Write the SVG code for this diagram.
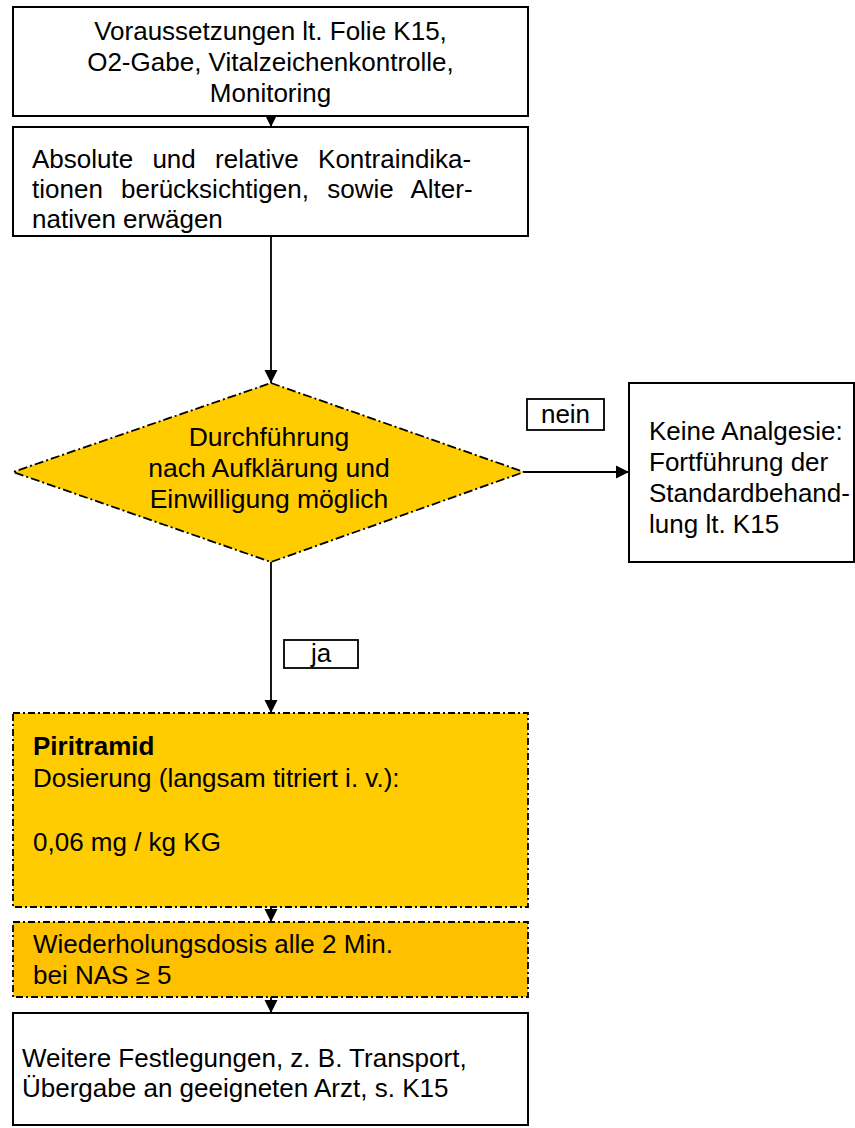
<svg xmlns="http://www.w3.org/2000/svg" width="855" height="1128" viewBox="0 0 855 1128">
  <style>
    text { font-family: "Liberation Sans", Arial, sans-serif; font-size: 26px; fill: #000; }
    .c { text-anchor: middle; }
    .b { font-weight: bold; }
    .box { fill: #fff; stroke: #000; stroke-width: 2; }
    .tag { fill: #fff; stroke: #000; stroke-width: 1.8; }
    .dd { stroke: #000; stroke-width: 1.8; stroke-dasharray: 7 3 2 3; }
    .dd2 { stroke: #000; stroke-width: 1.8; stroke-dasharray: 9 3 2 3; }
    .y1 { fill: #FFCC00; }
    .y2 { fill: #FFC000; }
    .edge { stroke: #000; stroke-width: 1.8; fill: none; }
  </style>
  <defs>
    <marker id="arrow" viewBox="0 0 10 10" refX="10" refY="5" markerWidth="7.5" markerHeight="7.5" markerUnits="strokeWidth" orient="auto">
      <path d="M0,0 L10,5 L0,10 Z" fill="#000"/>
    </marker>
  </defs>

  <!-- connectors -->
  <g id="connectors">
    <line class="edge" x1="271" y1="116" x2="271" y2="127" marker-end="url(#arrow)"/>
    <line class="edge" x1="271" y1="236" x2="271" y2="383" marker-end="url(#arrow)"/>
    <line class="edge" x1="524" y1="472" x2="629" y2="472" marker-end="url(#arrow)"/>
    <line class="edge" x1="271" y1="562" x2="271" y2="713" marker-end="url(#arrow)"/>
    <line class="edge" x1="271" y1="907" x2="271" y2="922" marker-end="url(#arrow)"/>
    <line class="edge" x1="271" y1="997" x2="271" y2="1013" marker-end="url(#arrow)"/>
    <g id="label-nein">
      <rect class="tag" x="527" y="399" width="77" height="31"/>
      <text class="c" x="565.5" y="423">nein</text>
    </g>
    <g id="label-ja">
      <rect class="tag" x="284" y="640" width="74" height="28"/>
      <text class="c" x="321" y="662">ja</text>
    </g>
  </g>

  <!-- nodes -->
  <g id="node-start">
    <rect class="box" x="13" y="7" width="515" height="109"/>
    <text class="c" x="270.5" y="40">Voraussetzungen lt. Folie K15,</text>
    <text class="c" x="270.5" y="71">O2-Gabe, Vitalzeichenkontrolle,</text>
    <text class="c" x="270.5" y="102">Monitoring</text>
  </g>

  <g id="node-contra">
    <rect class="box" x="13" y="127" width="515" height="109"/>
    <!-- justified paragraph: first two lines slightly spread -->
    <text x="32" y="168" word-spacing="12">Absolute und relative Kontraindika-</text>
    <text x="32" y="198" word-spacing="11">tionen berücksichtigen, sowie Alter-</text>
    <text x="32" y="228">nativen erwägen</text>
  </g>

  <g id="node-decision">
    <polygon class="y1 dd2" points="271,383 524,472 271,562 13,472"/>
    <text class="c" x="269" y="446" style="font-size:26.5px">Durchführung</text>
    <text class="c" x="269" y="477" style="font-size:26.5px">nach Aufklärung und</text>
    <text class="c" x="269" y="508" style="font-size:26.5px">Einwilligung möglich</text>
  </g>

  <g id="node-none">
    <rect class="box" x="629" y="383" width="225" height="179"/>
    <text x="649" y="440">Keine Analgesie:</text>
    <text x="649" y="471">Fortführung der</text>
    <text x="649" y="502">Standardbehand-</text>
    <text x="649" y="533">lung lt. K15</text>
  </g>

  <g id="node-dose">
    <rect class="y1 dd" x="13" y="713" width="515" height="194"/>
    <text class="b" x="33" y="755">Piritramid</text>
    <text x="33" y="787">Dosierung (langsam titriert i. v.):</text>
    <text x="33" y="851">0,06 mg / kg KG</text>
  </g>

  <g id="node-repeat">
    <rect class="y2 dd" x="13" y="922" width="515" height="75"/>
    <text x="33" y="953">Wiederholungsdosis alle 2 Min.</text>
    <text x="33" y="984">bei NAS ≥ 5</text>
  </g>

  <g id="node-end">
    <rect class="box" x="13" y="1013" width="515" height="112"/>
    <text x="22" y="1067">Weitere Festlegungen, z. B. Transport,</text>
    <text x="22" y="1097">Übergabe an geeigneten Arzt, s. K15</text>
  </g>
</svg>
